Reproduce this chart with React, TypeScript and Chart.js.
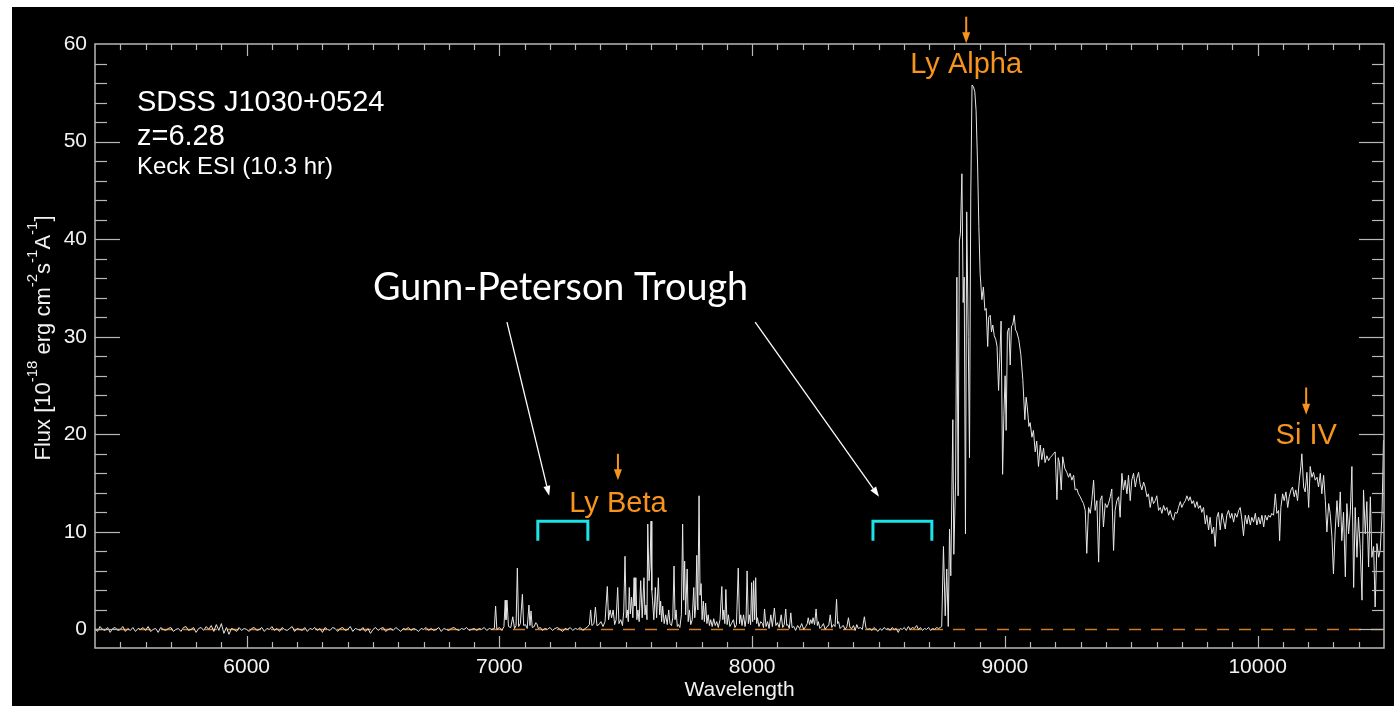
import React, { useEffect, useRef } from "react";
import { Chart, registerables } from "chart.js";

Chart.register(...registerables);

const SANS = '"Liberation Sans", Arial, Helvetica, sans-serif';

// ---------- spectrum data: [wavelength (Å), flux (1e-18 erg/cm2/s/Å)] ----------
const blueSpectrum: number[][] = [
  [5400,0.1],[5410,-0.2],[5420,0.3],[5430,0.0],[5440,-0.1],[5450,0.2],[5460,-0.3],[5470,0.1],[5480,0.2],[5490,-0.1],[5500,0.0],[5510,0.3],[5520,-0.2],[5530,0.1],[5540,-0.1],[5550,0.2],
  [5560,-0.2],[5570,0.1],[5580,0.0],[5590,0.2],[5600,-0.1],[5610,0.3],[5620,-0.2],[5630,0.0],[5640,0.1],[5650,-0.3],[5660,0.2],[5670,0.0],[5680,-0.1],[5690,0.1],[5700,0.2],[5710,-0.2],
  [5720,0.0],[5730,0.1],[5740,-0.2],[5750,0.2],[5760,0.3],[5770,-0.1],[5780,0.0],[5790,0.2],[5800,-0.3],[5810,0.1],[5820,0.2],[5830,-0.1],[5840,0.3],[5850,0.0],[5860,0.4],[5870,-0.2],
  [5880,0.5],[5890,-0.1],[5900,0.6],[5910,-0.4],[5920,0.2],[5930,-0.5],[5940,0.1],[5950,0.0],[5960,-0.2],[5970,0.2],[5980,-0.1],[5990,0.1],[6000,0.0],[6010,-0.2],[6020,0.1],[6030,0.2],
  [6040,-0.1],[6050,0.0],[6060,0.2],[6070,-0.2],[6080,0.1],[6090,0.0],[6100,0.3],[6110,-0.1],[6120,0.1],[6130,-0.2],[6140,0.2],[6150,0.0],[6160,-0.1],[6170,0.1],[6180,0.3],[6190,-0.2],
  [6200,0.1],[6210,0.0],[6220,-0.1],[6230,0.2],[6240,-0.2],[6250,0.1],[6260,0.0],[6270,0.2],[6280,-0.1],[6290,0.1],[6300,-0.3],[6310,0.2],[6320,0.0],[6330,-0.1],[6340,0.2],[6350,0.1],
  [6360,-0.2],[6370,0.1],[6380,0.2],[6390,-0.1],[6400,0.0],[6410,0.3],[6420,-0.2],[6430,0.1],[6440,0.0],[6450,-0.1],[6460,0.2],[6470,-0.2],[6480,0.1],[6490,-0.4],[6500,0.0],[6510,0.2],
  [6520,-0.1],[6530,0.1],[6540,0.2],[6550,-0.2],[6560,0.0],[6570,0.1],[6580,-0.1],[6590,0.2],[6600,0.0],[6610,-0.2],[6620,0.1],[6630,0.0],[6640,0.2],[6650,-0.1],[6660,0.1],[6670,0.0],
  [6680,-0.2],[6690,0.1],[6700,0.0],[6710,0.2],[6720,-0.1],[6730,0.1],[6740,-0.1],[6750,0.0],[6760,0.2],[6770,-0.2],[6780,0.1],[6790,0.0],[6800,-0.1],[6810,0.1],[6820,0.2],[6830,0.0],
  [6840,-0.1],[6850,0.1],[6860,0.0],[6870,0.2],[6880,-0.1],[6890,0.0],[6900,0.1],[6910,-0.1],[6920,0.1],[6930,0.0],[6940,0.2],[6950,-0.1],[6960,0.1],[6970,0.0],
];

const forestSpectrum: number[][] = [
  [6980,0.1],[6985,2.4],[6990,0.0],[7000,0.2],[7010,-0.1],[7018,0.3],[7023,3.0],[7026,1.0],[7030,3.0],[7036,0.3],
  [7045,0.2],[7053,1.3],[7060,0.1],[7066,0.4],[7071,6.3],[7076,0.3],[7083,0.6],[7091,3.6],[7096,0.4],[7103,0.5],
  [7110,0.1],[7117,2.5],[7121,0.4],[7125,1.9],[7130,0.2],[7138,0.3],[7144,0.7],[7148,0.6],[7154,0.1],[7162,0.2],
  [7170,-0.1],[7180,0.1],[7190,0.0],[7200,0.2],[7210,-0.1],[7220,0.1],[7230,0.2],[7240,0.0],[7250,-0.2],[7260,0.1],
  [7270,0.0],[7280,0.2],[7290,-0.1],[7300,0.1],[7310,0.0],[7320,0.2],[7330,-0.1],[7340,0.1],[7350,0.3],[7356,0.5],
  [7361,2.0],[7366,0.4],[7374,0.6],[7380,2.3],[7386,0.4],[7394,0.5],[7402,0.8],[7410,0.3],[7418,0.8],[7427,4.4],
  [7432,1.0],[7438,2.0],[7444,1.2],[7450,2.0],[7456,0.5],[7462,1.0],[7468,4.3],[7473,0.6],[7480,1.0],[7487,0.4],
  [7492,1.8],[7497,7.5],[7502,1.2],[7506,2.0],[7510,0.8],[7514,4.3],[7518,1.6],[7523,3.3],[7528,1.2],[7533,5.3],
  [7536,2.4],[7540,5.3],[7544,1.0],[7548,2.0],[7553,0.8],[7559,5.0],[7565,1.2],[7572,5.3],[7576,1.5],[7580,2.5],
  [7584,1.0],[7587,10.8],[7592,5.0],[7596,6.5],[7600,11.1],[7603,4.0],[7606,3.0],[7611,1.0],[7617,4.3],[7622,1.2],
  [7629,5.3],[7634,1.5],[7638,2.9],[7642,0.8],[7646,2.4],[7652,0.6],[7658,1.5],[7664,0.5],[7670,2.0],[7675,0.6],
  [7681,0.4],[7686,1.2],[7691,6.5],[7695,1.0],[7699,2.0],[7704,0.3],[7708,0.5],[7714,0.2],[7720,1.5],[7725,10.8],
  [7729,3.0],[7733,7.0],[7737,1.5],[7743,6.2],[7747,0.8],[7752,2.0],[7757,0.5],[7763,1.0],[7769,4.3],[7773,1.2],
  [7777,2.5],[7781,7.6],[7785,2.0],[7790,13.7],[7794,3.5],[7798,4.7],[7802,1.0],[7807,2.9],[7811,0.8],[7816,2.7],
  [7821,0.6],[7826,1.5],[7831,0.4],[7836,1.0],[7842,0.3],[7848,1.1],[7854,0.4],[7860,0.8],[7866,0.2],[7873,1.0],
  [7880,4.4],[7884,1.0],[7888,2.0],[7892,0.6],[7896,4.1],[7901,0.5],[7906,1.5],[7912,0.3],[7918,0.6],[7926,1.0],
  [7932,0.2],[7938,0.5],[7945,6.3],[7950,0.6],[7955,1.5],[7960,0.4],[7966,1.5],[7972,0.3],[7976,1.0],[7980,6.0],
  [7985,0.6],[7989,1.5],[7994,0.5],[7998,4.8],[8002,0.8],[8006,5.0],[8010,1.0],[8014,5.3],[8018,0.6],[8021,1.2],
  [8027,0.3],[8034,0.8],[8041,0.6],[8045,0.2],[8049,2.1],[8055,0.3],[8061,0.8],[8067,0.1],[8074,1.5],[8080,0.3],
  [8088,2.2],[8094,0.4],[8100,0.7],[8107,0.2],[8115,1.5],[8121,0.2],[8127,0.5],[8133,2.1],[8137,0.4],[8141,0.5],
  [8147,0.1],[8153,1.7],[8158,0.2],[8165,0.3],[8172,-0.1],[8180,0.4],[8188,0.1],[8196,0.6],[8204,0.0],[8212,0.3],
  [8218,0.6],[8222,1.2],[8227,0.5],[8232,1.0],[8237,0.6],[8241,1.2],[8247,0.5],[8253,2.1],[8258,0.4],[8262,0.8],
  [8268,0.1],[8275,0.3],[8282,0.6],[8289,0.0],[8296,0.3],[8303,0.4],[8309,1.5],[8315,0.2],[8322,0.5],[8328,0.3],
  [8334,3.1],[8338,0.6],[8342,0.8],[8348,0.1],[8355,0.3],[8361,0.4],[8368,0.0],[8375,0.3],[8381,1.2],[8387,0.2],
  [8394,0.1],[8401,0.4],[8408,-0.1],[8414,0.5],[8420,0.1],[8428,0.2],[8436,0.0],[8444,1.3],[8450,0.2],[8458,0.0],
  [8466,0.1],[8474,-0.1],[8482,0.2],[8490,0.0],[8498,-0.2],[8506,0.1],[8514,-0.1],[8522,0.2],[8530,0.0],[8538,0.1],
  [8546,-0.1],[8554,0.2],[8562,0.0],[8570,0.1],[8578,-0.3],[8586,0.1],[8594,0.0],[8602,0.2],[8610,-0.1],[8618,0.3],
  [8626,0.0],[8634,0.2],[8642,0.1],[8651,0.4],[8658,0.0],[8666,0.2],[8674,-0.1],[8682,0.1],[8690,0.0],[8698,0.2],
  [8706,-0.1],[8714,0.1],[8722,0.0],[8730,0.2],[8738,0.1],[8744,0.2],
];

const redSpectrum: number[][] = [
  [8750,0.3],[8757,8.5],[8764,1.4],[8770,6.2],[8776,0.3],[8781,10.3],[8786,5.5],[8794,21.5],[8798,7.7],[8805,15.2],
  [8810,36.1],[8815,13.7],[8820,39.8],[8824,40.6],[8830,46.7],[8835,33.5],[8839,36.1],[8844,9.8],[8849,42.8],[8855,30.0],
  [8860,17.6],[8865,44.3],[8870,55.8],[8876,55.6],[8881,55.1],[8886,53.2],[8892,47.6],[8897,41.3],[8902,36.5],[8909,33.8],
  [8915,35.1],[8921,32.7],[8926,32.9],[8932,29.0],[8936,32.0],[8942,32.2],[8947,30.5],[8952,31.2],[8958,30.1],[8964,29.7],
  [8969,29.0],[8975,24.5],[8980,27.9],[8985,31.6],[8991,15.9],[8996,21.9],[9001,26.0],[9005,20.4],[9010,30.5],[9016,30.9],
  [9021,27.1],[9026,31.1],[9031,31.2],[9037,32.2],[9042,30.7],[9047,30.5],[9055,29.7],[9063,28.2],[9071,25.6],[9079,21.5],
  [9084,23.8],[9089,22.7],[9095,20.8],[9100,21.2],[9107,19.7],[9113,20.4],[9120,18.2],[9126,19.3],[9133,16.7],[9140,18.9],
  [9146,17.4],[9153,18.6],[9159,17.1],[9166,17.8],[9173,17.3],[9179,17.6],[9186,17.8],[9192,18.0],[9199,18.2],[9206,13.3],
  [9211,17.6],[9216,17.1],[9223,14.3],[9229,17.7],[9237,16.5],[9245,16.1],[9252,15.6],[9258,16.0],[9265,15.3],[9272,15.8],
  [9278,14.3],[9285,14.4],[9291,13.9],[9298,13.6],[9305,13.2],[9311,12.9],[9318,12.2],[9324,7.8],[9331,12.5],[9338,11.9],
  [9344,13.2],[9351,15.3],[9357,12.2],[9364,13.2],[9371,6.9],[9377,13.2],[9384,13.7],[9390,10.5],[9397,12.9],[9404,12.5],
  [9410,12.9],[9417,13.6],[9423,14.4],[9430,8.1],[9436,12.2],[9443,13.2],[9450,13.6],[9456,11.5],[9463,16.0],[9469,14.3],
  [9476,15.3],[9483,13.9],[9489,15.8],[9496,13.2],[9502,15.3],[9509,16.0],[9516,14.6],[9522,15.5],[9529,16.1],[9535,14.9],
  [9542,14.3],[9549,15.1],[9555,14.6],[9562,13.6],[9568,13.9],[9575,12.5],[9582,13.6],[9588,12.9],[9595,13.2],[9601,13.7],
  [9608,12.2],[9615,12.5],[9621,11.9],[9628,12.7],[9634,12.2],[9641,12.5],[9648,11.7],[9654,12.2],[9661,11.5],[9667,11.2],
  [9674,12.0],[9681,11.9],[9687,12.5],[9694,13.1],[9700,12.5],[9707,12.9],[9714,13.2],[9720,13.7],[9727,13.2],[9733,13.6],
  [9740,12.9],[9746,13.2],[9753,12.5],[9760,13.1],[9766,12.4],[9773,12.7],[9779,12.0],[9786,12.5],[9793,10.8],[9799,11.7],
  [9806,10.2],[9812,11.5],[9819,9.8],[9826,10.5],[9832,8.5],[9839,11.5],[9845,12.0],[9852,10.2],[9859,11.9],[9865,11.2],
  [9872,10.3],[9878,11.7],[9885,12.2],[9892,11.4],[9898,11.9],[9905,11.0],[9911,11.9],[9918,11.5],[9925,12.2],[9931,12.5],
  [9938,11.2],[9944,9.6],[9951,11.7],[9958,10.8],[9964,11.7],[9971,10.7],[9977,11.5],[9984,11.0],[9991,11.9],[9997,10.7],
  [10004,11.5],[10010,10.8],[10017,11.7],[10024,10.5],[10030,11.7],[10037,11.2],[10043,11.7],[10050,11.5],[10056,11.9],[10063,11.7],
  [10070,13.9],[10076,11.9],[10083,12.2],[10087,9.1],[10092,12.5],[10099,13.9],[10105,13.2],[10112,14.1],[10119,12.5],[10125,13.6],
  [10132,14.3],[10138,14.6],[10145,13.6],[10151,14.3],[10158,13.2],[10165,15.3],[10171,16.7],[10175,18.0],[10182,14.6],[10188,14.1],
  [10195,16.1],[10202,12.5],[10208,16.7],[10215,15.6],[10221,16.1],[10228,15.3],[10235,15.6],[10241,14.6],[10248,16.0],[10254,13.9],
  [10261,15.8],[10268,13.2],[10274,10.0],[10281,12.9],[10287,11.9],[10294,9.5],[10300,5.7],[10307,10.2],[10314,13.2],[10320,10.5],
  [10327,14.1],[10333,9.1],[10340,12.0],[10347,5.4],[10353,12.9],[10360,9.8],[10367,12.2],[10373,16.7],[10380,4.3],[10386,12.5],
  [10393,7.4],[10399,11.5],[10406,8.3],[10413,3.0],[10419,14.3],[10426,9.8],[10432,13.1],[10439,6.4],[10446,13.6],[10452,7.4],
  [10459,8.5],[10465,2.3],[10472,8.8],[10479,7.4],[10485,8.1],[10492,11.7],[10498,19.4],
];

const zeroLineWave = [5400, 10500];
const zeroLineFlux = [0, 0];

// ---------- axes ----------
const xTickValues = [6000, 7000, 8000, 9000, 10000];
const yTickValues = [0, 10, 20, 30, 40, 50, 60];
const xRange = [5400, 10500];
const yRange = [-1.9, 60];
const xMinorStep = 100;
const yMinorStep = 2;

// ---------- annotations ----------
const infoText = ["SDSS J1030+0524", "z=6.28", "Keck ESI (10.3 hr)"];
const infoWave = 5566;
const infoFlux = [53.1, 49.7, 46.7];
const infoSize = [29, 29, 24];

const emissionLabels = ["Ly Alpha", "Ly Beta", "Si IV"];
const emissionWave = [8847, 7469, 10192];
const emissionTextFlux = [57.0, 12.0, 19.0];
const emissionArrowFrom = [62.8, 18.0, 24.8];
const emissionArrowTo = [60.07, 15.3, 22.0];

const troughTitle = "Gunn-Peterson Trough";
const troughTitleWave = 6500;
const troughTitleFlux = 33.8;
const troughStart = [7152, 8478];
const troughEnd = [7350, 8711];
const troughTop = 11.1;
const troughBottom = 9.1;
const troughArrowFrom = [[7030, 31.5], [8012, 31.5]];
const troughArrowTo = [[7197, 13.7], [8502, 13.6]];

const AXIS = "#b8b8b8";
const TEXT = "#f2f2f2";
const ORANGE = "#F7941D";
const CYAN = "#1BE3E8";
const ZERO = "#D27A1E";

const decorPlugin = {
  id: "spectrumDecor",
  afterDraw(chart: any) {
    const { ctx, chartArea: a, scales } = chart;
    const x = scales.x;
    const y = scales.y;
    const px = (v: number) => x.getPixelForValue(v);
    const py = (v: number) => y.getPixelForValue(v);
    ctx.save();

    // frame
    ctx.strokeStyle = AXIS;
    ctx.lineWidth = 1.5;
    ctx.strokeRect(a.left, a.top, a.right - a.left, a.bottom - a.top);

    const seg = (x1: number, y1: number, x2: number, y2: number) => {
      ctx.beginPath();
      ctx.moveTo(x1, y1);
      ctx.lineTo(x2, y2);
      ctx.stroke();
    };
    ctx.lineWidth = 1.2;
    for (let v = xRange[0] + xMinorStep; v < xRange[1]; v += xMinorStep) {
      const major = xTickValues.includes(v);
      const len = major ? 12 : 6;
      const p = Math.round(px(v)) + 0.5;
      seg(p, a.bottom, p, a.bottom - len);
      seg(p, a.top, p, a.top + len);
    }
    for (let v = 0; v < yRange[1]; v += yMinorStep) {
      const major = yTickValues.includes(v);
      const len = major ? 25 : 12;
      const p = Math.round(py(v)) + 0.5;
      seg(a.left, p, a.left + len, p);
      seg(a.right, p, a.right - len, p);
    }

    // y-axis title with superscripts
    const parts: [string, boolean][] = [
      ["Flux [10", false], ["-18", true], [" erg cm", false], ["-2", true],
      ["s", false], ["-1", true], ["A", false], ["-1", true], ["]", false],
    ];
    const mainFont = `22px ${SANS}`;
    const supFont = `15px ${SANS}`;
    let total = 0;
    for (const [t, sup] of parts) {
      ctx.font = sup ? supFont : mainFont;
      total += ctx.measureText(t).width;
    }
    ctx.save();
    ctx.translate(a.left - 45, (a.top + a.bottom) / 2 - 8);
    ctx.rotate(-Math.PI / 2);
    ctx.fillStyle = TEXT;
    ctx.textAlign = "left";
    ctx.textBaseline = "alphabetic";
    let cx = -total / 2;
    for (const [t, sup] of parts) {
      ctx.font = sup ? supFont : mainFont;
      ctx.fillText(t, cx, sup ? -13 : 0);
      cx += ctx.measureText(t).width;
    }
    ctx.restore();

    // info text
    ctx.fillStyle = "#ffffff";
    ctx.textAlign = "left";
    ctx.textBaseline = "alphabetic";
    infoText.forEach((t, i) => {
      ctx.font = `${infoSize[i]}px ${SANS}`;
      ctx.fillText(t, px(infoWave), py(infoFlux[i]));
    });

    // emission line labels + arrows
    emissionLabels.forEach((t, i) => {
      const xp = px(emissionWave[i]);
      ctx.fillStyle = ORANGE;
      ctx.font = `29px ${SANS}`;
      ctx.textAlign = "center";
      ctx.fillText(t, xp, py(emissionTextFlux[i]));
      const y1 = py(emissionArrowFrom[i]);
      const y2 = py(emissionArrowTo[i]);
      ctx.strokeStyle = ORANGE;
      ctx.lineWidth = 2;
      seg(xp, y1, xp, y2 - 10);
      ctx.beginPath();
      ctx.moveTo(xp - 4, y2 - 11);
      ctx.lineTo(xp + 4, y2 - 11);
      ctx.lineTo(xp, y2);
      ctx.closePath();
      ctx.fill();
    });

    // trough brackets
    ctx.strokeStyle = CYAN;
    ctx.lineWidth = 3;
    ctx.lineJoin = "miter";
    troughStart.forEach((s, i) => {
      ctx.beginPath();
      ctx.moveTo(px(s), py(troughBottom));
      ctx.lineTo(px(s), py(troughTop));
      ctx.lineTo(px(troughEnd[i]), py(troughTop));
      ctx.lineTo(px(troughEnd[i]), py(troughBottom));
      ctx.stroke();
    });

    // Gunn-Peterson title
    ctx.fillStyle = "#ffffff";
    ctx.textAlign = "left";
    ctx.font = `36px Lato, "Open Sans", sans-serif`;
    const w = ctx.measureText(troughTitle).width;
    const size = (36 * 375) / w;
    ctx.font = `${size.toFixed(1)}px Lato, "Open Sans", sans-serif`;
    ctx.fillText(troughTitle, px(troughTitleWave), py(troughTitleFlux));

    // arrows
    ctx.strokeStyle = "#ffffff";
    ctx.lineWidth = 1.3;
    troughArrowFrom.forEach((f, i) => {
      const x1 = px(f[0]), y1 = py(f[1]);
      const x2 = px(troughArrowTo[i][0]), y2 = py(troughArrowTo[i][1]);
      const dx = x2 - x1, dy = y2 - y1;
      const L = Math.hypot(dx, dy);
      const ux = dx / L, uy = dy / L;
      const head = 10, half = 3.5;
      seg(x1, y1, x2 - ux * head, y2 - uy * head);
      ctx.beginPath();
      ctx.moveTo(x2, y2);
      ctx.lineTo(x2 - ux * head - uy * half, y2 - uy * head + ux * half);
      ctx.lineTo(x2 - ux * head + uy * half, y2 - uy * head - ux * half);
      ctx.closePath();
      ctx.fill();
    });

    ctx.restore();
  },
};

export default function App() {
  const ref = useRef<HTMLCanvasElement>(null);
  useEffect(() => {
    const canvas = ref.current;
    if (!canvas) return;
    const toXY = (pts: number[][]) => pts.map(([wx, fy]) => ({ x: wx, y: fy }));
    const spectrum = [...blueSpectrum, ...forestSpectrum, ...redSpectrum];
    const zero = zeroLineWave.map((w, i) => ({ x: w, y: zeroLineFlux[i] }));
    const chart = new Chart(canvas, {
      type: "line",
      data: {
        datasets: [
          {
            label: "flux",
            data: toXY(spectrum),
            borderColor: "#e6e6e6",
            borderWidth: 1,
            pointRadius: 0,
            tension: 0,
            order: 0,
          },
          {
            label: "zero",
            data: zero,
            borderColor: ZERO,
            borderWidth: 1.6,
            borderDash: [12, 10],
            pointRadius: 0,
            order: 1,
          },
        ],
      },
      options: {
        animation: false,
        responsive: false,
        devicePixelRatio: 1,
        events: [],
        layout: { padding: { top: 37, right: 10, left: 0, bottom: 0 } },
        plugins: { legend: { display: false }, tooltip: { enabled: false } },
        scales: {
          x: {
            type: "linear",
            min: xRange[0],
            max: xRange[1],
            afterBuildTicks: (s: any) => {
              s.ticks = xTickValues.map((v) => ({ value: v }));
            },
            afterFit: (s: any) => {
              s.height = 58;
            },
            grid: { display: false, drawTicks: false },
            border: { display: false },
            ticks: {
              color: TEXT,
              font: { family: SANS, size: 21 },
              padding: 7,
              maxRotation: 0,
              autoSkip: false,
              callback: (v: any) => String(v),
            },
            title: {
              display: true,
              text: "Wavelength",
              color: TEXT,
              font: { family: SANS, size: 21 },
              padding: { top: 0, bottom: 3 },
            },
          },
          y: {
            type: "linear",
            min: yRange[0],
            max: yRange[1],
            afterBuildTicks: (s: any) => {
              s.ticks = yTickValues.map((v) => ({ value: v }));
            },
            afterFit: (s: any) => {
              s.width = 83;
            },
            grid: { display: false, drawTicks: false },
            border: { display: false },
            ticks: {
              color: TEXT,
              font: { family: SANS, size: 21 },
              padding: 8,
              callback: (v: any) => String(v),
            },
          },
        },
      },
      plugins: [decorPlugin],
    } as any);
    return () => chart.destroy();
  }, []);

  return (
    <div style={{ position: "fixed", left: 0, top: 0, width: 1394, height: 706, background: "#ffffff" }}>
      <canvas
        ref={ref}
        width={1382}
        height={699}
        style={{ position: "absolute", left: 12, top: 7, width: 1382, height: 699, background: "#000000" }}
      />
    </div>
  );
}
